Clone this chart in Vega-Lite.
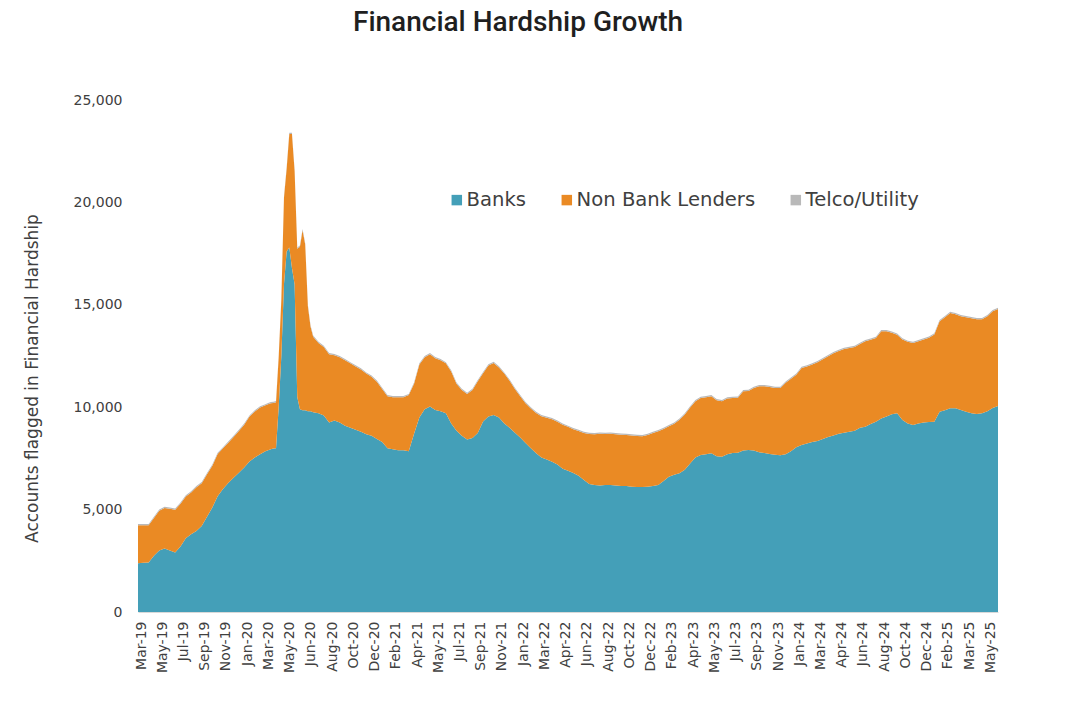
{
  "$schema": "https://vega.github.io/schema/vega-lite/v6.json",
  "width": 860,
  "height": 512,
  "autosize": {"type": "none"},
  "padding": {"left": 138, "top": 100, "right": 82, "bottom": 98},
  "background": "white",
  "title": {"text": "Financial Hardship Growth", "font": "Roboto", "fontSize": 28, "fontWeight": 500, "color": "#1f1f1f", "anchor": "middle", "frame": "group", "dx": -50, "offset": 34, "baseline": "alphabetic"},
  "config": {"view": {"stroke": null}},
  "data": {"values": [
    {"week": 0, "Banks": 2380, "Non Bank Lenders": 1860, "Telco/Utility": 60},
    {"week": 2, "Banks": 2400, "Non Bank Lenders": 1840, "Telco/Utility": 60},
    {"week": 4, "Banks": 2420, "Non Bank Lenders": 1820, "Telco/Utility": 60},
    {"week": 6, "Banks": 2750, "Non Bank Lenders": 1840, "Telco/Utility": 60},
    {"week": 8, "Banks": 3000, "Non Bank Lenders": 1940, "Telco/Utility": 60},
    {"week": 10, "Banks": 3100, "Non Bank Lenders": 1980, "Telco/Utility": 60},
    {"week": 12, "Banks": 3000, "Non Bank Lenders": 2040, "Telco/Utility": 60},
    {"week": 14, "Banks": 2900, "Non Bank Lenders": 2090, "Telco/Utility": 60},
    {"week": 16, "Banks": 3200, "Non Bank Lenders": 2090, "Telco/Utility": 60},
    {"week": 18, "Banks": 3600, "Non Bank Lenders": 2040, "Telco/Utility": 60},
    {"week": 20, "Banks": 3800, "Non Bank Lenders": 2040, "Telco/Utility": 60},
    {"week": 22, "Banks": 3950, "Non Bank Lenders": 2140, "Telco/Utility": 60},
    {"week": 24, "Banks": 4200, "Non Bank Lenders": 2090, "Telco/Utility": 60},
    {"week": 26, "Banks": 4650, "Non Bank Lenders": 2080, "Telco/Utility": 60},
    {"week": 28, "Banks": 5100, "Non Bank Lenders": 2040, "Telco/Utility": 60},
    {"week": 30, "Banks": 5650, "Non Bank Lenders": 2060, "Telco/Utility": 60},
    {"week": 32, "Banks": 6000, "Non Bank Lenders": 1990, "Telco/Utility": 60},
    {"week": 34, "Banks": 6300, "Non Bank Lenders": 1960, "Telco/Utility": 60},
    {"week": 36, "Banks": 6550, "Non Bank Lenders": 1990, "Telco/Utility": 60},
    {"week": 38, "Banks": 6800, "Non Bank Lenders": 2040, "Telco/Utility": 60},
    {"week": 40, "Banks": 7050, "Non Bank Lenders": 2090, "Telco/Utility": 60},
    {"week": 42, "Banks": 7350, "Non Bank Lenders": 2190, "Telco/Utility": 60},
    {"week": 44, "Banks": 7550, "Non Bank Lenders": 2240, "Telco/Utility": 60},
    {"week": 46, "Banks": 7700, "Non Bank Lenders": 2290, "Telco/Utility": 60},
    {"week": 48, "Banks": 7850, "Non Bank Lenders": 2240, "Telco/Utility": 60},
    {"week": 49, "Banks": 7900, "Non Bank Lenders": 2240, "Telco/Utility": 60},
    {"week": 50, "Banks": 7950, "Non Bank Lenders": 2240, "Telco/Utility": 60},
    {"week": 51, "Banks": 7980, "Non Bank Lenders": 2230, "Telco/Utility": 60},
    {"week": 52, "Banks": 8000, "Non Bank Lenders": 2240, "Telco/Utility": 60},
    {"week": 53, "Banks": 10000, "Non Bank Lenders": 2440, "Telco/Utility": 60},
    {"week": 54, "Banks": 12500, "Non Bank Lenders": 2740, "Telco/Utility": 60},
    {"week": 55, "Banks": 16000, "Non Bank Lenders": 4240, "Telco/Utility": 60},
    {"week": 56, "Banks": 17600, "Non Bank Lenders": 4040, "Telco/Utility": 60},
    {"week": 57, "Banks": 17800, "Non Bank Lenders": 5540, "Telco/Utility": 60},
    {"week": 58, "Banks": 16800, "Non Bank Lenders": 6540, "Telco/Utility": 60},
    {"week": 59, "Banks": 16000, "Non Bank Lenders": 5540, "Telco/Utility": 60},
    {"week": 60, "Banks": 10500, "Non Bank Lenders": 7240, "Telco/Utility": 60},
    {"week": 61, "Banks": 9900, "Non Bank Lenders": 7940, "Telco/Utility": 60},
    {"week": 62, "Banks": 9850, "Non Bank Lenders": 8790, "Telco/Utility": 60},
    {"week": 63, "Banks": 9850, "Non Bank Lenders": 8090, "Telco/Utility": 60},
    {"week": 64, "Banks": 9800, "Non Bank Lenders": 5140, "Telco/Utility": 60},
    {"week": 65, "Banks": 9800, "Non Bank Lenders": 4140, "Telco/Utility": 60},
    {"week": 66, "Banks": 9750, "Non Bank Lenders": 3690, "Telco/Utility": 60},
    {"week": 68, "Banks": 9700, "Non Bank Lenders": 3440, "Telco/Utility": 60},
    {"week": 70, "Banks": 9600, "Non Bank Lenders": 3340, "Telco/Utility": 60},
    {"week": 72, "Banks": 9250, "Non Bank Lenders": 3340, "Telco/Utility": 60},
    {"week": 74, "Banks": 9350, "Non Bank Lenders": 3190, "Telco/Utility": 60},
    {"week": 76, "Banks": 9250, "Non Bank Lenders": 3190, "Telco/Utility": 60},
    {"week": 78, "Banks": 9100, "Non Bank Lenders": 3190, "Telco/Utility": 60},
    {"week": 80, "Banks": 9000, "Non Bank Lenders": 3140, "Telco/Utility": 60},
    {"week": 82, "Banks": 8900, "Non Bank Lenders": 3090, "Telco/Utility": 60},
    {"week": 84, "Banks": 8800, "Non Bank Lenders": 3040, "Telco/Utility": 60},
    {"week": 86, "Banks": 8680, "Non Bank Lenders": 2960, "Telco/Utility": 60},
    {"week": 88, "Banks": 8600, "Non Bank Lenders": 2890, "Telco/Utility": 60},
    {"week": 90, "Banks": 8450, "Non Bank Lenders": 2790, "Telco/Utility": 60},
    {"week": 92, "Banks": 8300, "Non Bank Lenders": 2590, "Telco/Utility": 60},
    {"week": 94, "Banks": 8000, "Non Bank Lenders": 2540, "Telco/Utility": 60},
    {"week": 96, "Banks": 7950, "Non Bank Lenders": 2540, "Telco/Utility": 60},
    {"week": 98, "Banks": 7900, "Non Bank Lenders": 2590, "Telco/Utility": 60},
    {"week": 100, "Banks": 7900, "Non Bank Lenders": 2590, "Telco/Utility": 60},
    {"week": 102, "Banks": 7850, "Non Bank Lenders": 2740, "Telco/Utility": 60},
    {"week": 104, "Banks": 8700, "Non Bank Lenders": 2440, "Telco/Utility": 60},
    {"week": 106, "Banks": 9500, "Non Bank Lenders": 2590, "Telco/Utility": 60},
    {"week": 108, "Banks": 9900, "Non Bank Lenders": 2540, "Telco/Utility": 60},
    {"week": 110, "Banks": 10030, "Non Bank Lenders": 2560, "Telco/Utility": 60},
    {"week": 112, "Banks": 9860, "Non Bank Lenders": 2530, "Telco/Utility": 60},
    {"week": 114, "Banks": 9800, "Non Bank Lenders": 2490, "Telco/Utility": 60},
    {"week": 116, "Banks": 9700, "Non Bank Lenders": 2440, "Telco/Utility": 60},
    {"week": 118, "Banks": 9200, "Non Bank Lenders": 2540, "Telco/Utility": 60},
    {"week": 120, "Banks": 8850, "Non Bank Lenders": 2290, "Telco/Utility": 60},
    {"week": 122, "Banks": 8600, "Non Bank Lenders": 2240, "Telco/Utility": 60},
    {"week": 124, "Banks": 8420, "Non Bank Lenders": 2220, "Telco/Utility": 60},
    {"week": 126, "Banks": 8500, "Non Bank Lenders": 2340, "Telco/Utility": 60},
    {"week": 128, "Banks": 8740, "Non Bank Lenders": 2530, "Telco/Utility": 60},
    {"week": 130, "Banks": 9300, "Non Bank Lenders": 2360, "Telco/Utility": 60},
    {"week": 132, "Banks": 9550, "Non Bank Lenders": 2490, "Telco/Utility": 60},
    {"week": 134, "Banks": 9620, "Non Bank Lenders": 2540, "Telco/Utility": 60},
    {"week": 136, "Banks": 9500, "Non Bank Lenders": 2440, "Telco/Utility": 60},
    {"week": 138, "Banks": 9200, "Non Bank Lenders": 2440, "Telco/Utility": 60},
    {"week": 140, "Banks": 9000, "Non Bank Lenders": 2290, "Telco/Utility": 60},
    {"week": 142, "Banks": 8750, "Non Bank Lenders": 2140, "Telco/Utility": 60},
    {"week": 144, "Banks": 8520, "Non Bank Lenders": 2020, "Telco/Utility": 60},
    {"week": 146, "Banks": 8250, "Non Bank Lenders": 1940, "Telco/Utility": 60},
    {"week": 148, "Banks": 8000, "Non Bank Lenders": 1940, "Telco/Utility": 60},
    {"week": 150, "Banks": 7750, "Non Bank Lenders": 1970, "Telco/Utility": 60},
    {"week": 152, "Banks": 7550, "Non Bank Lenders": 2010, "Telco/Utility": 60},
    {"week": 154, "Banks": 7450, "Non Bank Lenders": 2040, "Telco/Utility": 60},
    {"week": 156, "Banks": 7340, "Non Bank Lenders": 2070, "Telco/Utility": 60},
    {"week": 158, "Banks": 7200, "Non Bank Lenders": 2090, "Telco/Utility": 60},
    {"week": 160, "Banks": 7000, "Non Bank Lenders": 2140, "Telco/Utility": 60},
    {"week": 162, "Banks": 6900, "Non Bank Lenders": 2140, "Telco/Utility": 60},
    {"week": 164, "Banks": 6790, "Non Bank Lenders": 2130, "Telco/Utility": 60},
    {"week": 166, "Banks": 6650, "Non Bank Lenders": 2190, "Telco/Utility": 60},
    {"week": 168, "Banks": 6450, "Non Bank Lenders": 2290, "Telco/Utility": 60},
    {"week": 170, "Banks": 6250, "Non Bank Lenders": 2440, "Telco/Utility": 60},
    {"week": 172, "Banks": 6200, "Non Bank Lenders": 2480, "Telco/Utility": 60},
    {"week": 174, "Banks": 6180, "Non Bank Lenders": 2520, "Telco/Utility": 60},
    {"week": 176, "Banks": 6200, "Non Bank Lenders": 2490, "Telco/Utility": 60},
    {"week": 178, "Banks": 6200, "Non Bank Lenders": 2500, "Telco/Utility": 60},
    {"week": 180, "Banks": 6180, "Non Bank Lenders": 2500, "Telco/Utility": 60},
    {"week": 182, "Banks": 6150, "Non Bank Lenders": 2510, "Telco/Utility": 60},
    {"week": 184, "Banks": 6150, "Non Bank Lenders": 2490, "Telco/Utility": 60},
    {"week": 186, "Banks": 6120, "Non Bank Lenders": 2500, "Telco/Utility": 60},
    {"week": 188, "Banks": 6100, "Non Bank Lenders": 2490, "Telco/Utility": 60},
    {"week": 190, "Banks": 6100, "Non Bank Lenders": 2480, "Telco/Utility": 60},
    {"week": 192, "Banks": 6120, "Non Bank Lenders": 2520, "Telco/Utility": 60},
    {"week": 194, "Banks": 6150, "Non Bank Lenders": 2590, "Telco/Utility": 60},
    {"week": 196, "Banks": 6200, "Non Bank Lenders": 2630, "Telco/Utility": 60},
    {"week": 198, "Banks": 6400, "Non Bank Lenders": 2540, "Telco/Utility": 60},
    {"week": 200, "Banks": 6600, "Non Bank Lenders": 2470, "Telco/Utility": 60},
    {"week": 202, "Banks": 6700, "Non Bank Lenders": 2490, "Telco/Utility": 60},
    {"week": 204, "Banks": 6780, "Non Bank Lenders": 2610, "Telco/Utility": 60},
    {"week": 206, "Banks": 6950, "Non Bank Lenders": 2690, "Telco/Utility": 60},
    {"week": 208, "Banks": 7250, "Non Bank Lenders": 2740, "Telco/Utility": 60},
    {"week": 210, "Banks": 7550, "Non Bank Lenders": 2740, "Telco/Utility": 60},
    {"week": 212, "Banks": 7670, "Non Bank Lenders": 2780, "Telco/Utility": 60},
    {"week": 214, "Banks": 7700, "Non Bank Lenders": 2790, "Telco/Utility": 60},
    {"week": 216, "Banks": 7750, "Non Bank Lenders": 2790, "Telco/Utility": 60},
    {"week": 218, "Banks": 7600, "Non Bank Lenders": 2740, "Telco/Utility": 60},
    {"week": 220, "Banks": 7580, "Non Bank Lenders": 2710, "Telco/Utility": 60},
    {"week": 222, "Banks": 7700, "Non Bank Lenders": 2720, "Telco/Utility": 60},
    {"week": 224, "Banks": 7760, "Non Bank Lenders": 2690, "Telco/Utility": 60},
    {"week": 226, "Banks": 7770, "Non Bank Lenders": 2690, "Telco/Utility": 60},
    {"week": 228, "Banks": 7880, "Non Bank Lenders": 2900, "Telco/Utility": 60},
    {"week": 230, "Banks": 7910, "Non Bank Lenders": 2880, "Telco/Utility": 60},
    {"week": 232, "Banks": 7880, "Non Bank Lenders": 3060, "Telco/Utility": 60},
    {"week": 234, "Banks": 7800, "Non Bank Lenders": 3220, "Telco/Utility": 60},
    {"week": 236, "Banks": 7760, "Non Bank Lenders": 3260, "Telco/Utility": 60},
    {"week": 238, "Banks": 7720, "Non Bank Lenders": 3270, "Telco/Utility": 60},
    {"week": 240, "Banks": 7680, "Non Bank Lenders": 3260, "Telco/Utility": 60},
    {"week": 242, "Banks": 7650, "Non Bank Lenders": 3290, "Telco/Utility": 60},
    {"week": 244, "Banks": 7700, "Non Bank Lenders": 3490, "Telco/Utility": 60},
    {"week": 246, "Banks": 7850, "Non Bank Lenders": 3540, "Telco/Utility": 60},
    {"week": 248, "Banks": 8050, "Non Bank Lenders": 3540, "Telco/Utility": 60},
    {"week": 250, "Banks": 8160, "Non Bank Lenders": 3760, "Telco/Utility": 60},
    {"week": 252, "Banks": 8230, "Non Bank Lenders": 3760, "Telco/Utility": 60},
    {"week": 254, "Banks": 8300, "Non Bank Lenders": 3790, "Telco/Utility": 60},
    {"week": 256, "Banks": 8350, "Non Bank Lenders": 3840, "Telco/Utility": 60},
    {"week": 258, "Banks": 8450, "Non Bank Lenders": 3890, "Telco/Utility": 60},
    {"week": 260, "Banks": 8550, "Non Bank Lenders": 3940, "Telco/Utility": 60},
    {"week": 262, "Banks": 8620, "Non Bank Lenders": 4020, "Telco/Utility": 60},
    {"week": 264, "Banks": 8700, "Non Bank Lenders": 4040, "Telco/Utility": 60},
    {"week": 266, "Banks": 8750, "Non Bank Lenders": 4090, "Telco/Utility": 60},
    {"week": 268, "Banks": 8800, "Non Bank Lenders": 4090, "Telco/Utility": 60},
    {"week": 270, "Banks": 8850, "Non Bank Lenders": 4090, "Telco/Utility": 60},
    {"week": 272, "Banks": 9000, "Non Bank Lenders": 4090, "Telco/Utility": 60},
    {"week": 274, "Banks": 9050, "Non Bank Lenders": 4170, "Telco/Utility": 60},
    {"week": 276, "Banks": 9180, "Non Bank Lenders": 4110, "Telco/Utility": 60},
    {"week": 278, "Banks": 9290, "Non Bank Lenders": 4090, "Telco/Utility": 60},
    {"week": 280, "Banks": 9450, "Non Bank Lenders": 4260, "Telco/Utility": 60},
    {"week": 282, "Banks": 9540, "Non Bank Lenders": 4170, "Telco/Utility": 60},
    {"week": 284, "Banks": 9650, "Non Bank Lenders": 3990, "Telco/Utility": 60},
    {"week": 286, "Banks": 9700, "Non Bank Lenders": 3840, "Telco/Utility": 60},
    {"week": 288, "Banks": 9380, "Non Bank Lenders": 3930, "Telco/Utility": 60},
    {"week": 290, "Banks": 9200, "Non Bank Lenders": 3990, "Telco/Utility": 60},
    {"week": 292, "Banks": 9130, "Non Bank Lenders": 4010, "Telco/Utility": 60},
    {"week": 294, "Banks": 9200, "Non Bank Lenders": 4020, "Telco/Utility": 60},
    {"week": 296, "Banks": 9250, "Non Bank Lenders": 4060, "Telco/Utility": 60},
    {"week": 298, "Banks": 9280, "Non Bank Lenders": 4110, "Telco/Utility": 60},
    {"week": 300, "Banks": 9290, "Non Bank Lenders": 4260, "Telco/Utility": 60},
    {"week": 302, "Banks": 9780, "Non Bank Lenders": 4420, "Telco/Utility": 60},
    {"week": 304, "Banks": 9850, "Non Bank Lenders": 4540, "Telco/Utility": 60},
    {"week": 306, "Banks": 9950, "Non Bank Lenders": 4650, "Telco/Utility": 60},
    {"week": 308, "Banks": 9950, "Non Bank Lenders": 4590, "Telco/Utility": 60},
    {"week": 310, "Banks": 9860, "Non Bank Lenders": 4580, "Telco/Utility": 60},
    {"week": 312, "Banks": 9780, "Non Bank Lenders": 4610, "Telco/Utility": 60},
    {"week": 314, "Banks": 9700, "Non Bank Lenders": 4640, "Telco/Utility": 60},
    {"week": 316, "Banks": 9670, "Non Bank Lenders": 4620, "Telco/Utility": 60},
    {"week": 318, "Banks": 9700, "Non Bank Lenders": 4590, "Telco/Utility": 60},
    {"week": 320, "Banks": 9800, "Non Bank Lenders": 4640, "Telco/Utility": 60},
    {"week": 322, "Banks": 9960, "Non Bank Lenders": 4730, "Telco/Utility": 60},
    {"week": 324, "Banks": 10060, "Non Bank Lenders": 4730, "Telco/Utility": 60}
  ]},
  "transform": [{"fold": ["Banks", "Non Bank Lenders", "Telco/Utility"], "as": ["sector", "accounts"]}],
  "mark": {"type": "area", "interpolate": "linear"},
  "encoding": {
    "x": {
      "field": "week", "type": "quantitative",
      "scale": {"domain": [0, 324], "nice": false, "zero": false},
      "axis": {
        "title": null, "grid": false, "ticks": false,
        "values": [0, 8, 16, 24, 32, 40, 48, 56, 64, 72, 80, 88, 96, 104, 112, 120, 128, 136, 144, 152, 160, 168, 176, 184, 192, 200, 208, 216, 224, 232, 240, 248, 256, 264, 272, 280, 288, 296, 304, 312, 320],
        "labelExpr": "['Mar-19','May-19','Jul-19','Sep-19','Nov-19','Jan-20','Mar-20','May-20','Jun-20','Aug-20','Oct-20','Dec-20','Feb-21','Apr-21','May-21','Jul-21','Sep-21','Nov-21','Jan-22','Mar-22','Apr-22','Jun-22','Aug-22','Oct-22','Dec-22','Feb-23','Apr-23','May-23','Jul-23','Sep-23','Nov-23','Jan-24','Mar-24','Apr-24','Jun-24','Aug-24','Oct-24','Dec-24','Feb-25','Mar-25','May-25'][round(datum.value/8)]",
        "labelAngle": 270, "labelOverlap": false, "labelBound": false, "labelFlush": false, "labelOffset": 3,
        "labelFont": "DejaVu Sans", "labelFontSize": 14, "labelColor": "#404040", "labelPadding": 9,
        "domain": true, "domainColor": "#d9d9d9", "domainWidth": 1
      }
    },
    "y": {
      "field": "accounts", "type": "quantitative", "stack": "zero",
      "scale": {"domain": [0, 25000], "nice": false},
      "axis": {
        "values": [0, 5000, 10000, 15000, 20000, 25000], "format": ",.0f",
        "grid": false, "ticks": false, "domain": false,
        "labelFont": "DejaVu Sans", "labelFontSize": 14, "labelColor": "#404040", "labelPadding": 16,
        "title": "Accounts flagged in Financial Hardship", "titleFont": "DejaVu Sans", "titleFontSize": 17, "titleFontWeight": "normal", "titleColor": "#404040",
        "titleAngle": 270, "titleX": -106, "titleY": 278, "titleAlign": "center", "titleBaseline": "middle"
      }
    },
    "order": {"field": "sector", "sort": "ascending"},
    "color": {
      "field": "sector", "type": "nominal",
      "scale": {"domain": ["Banks", "Non Bank Lenders", "Telco/Utility"], "range": ["#449FB8", "#EA8A24", "#B9B9B9"]},
      "legend": {
        "orient": "none", "legendX": 309, "legendY": 90, "direction": "horizontal", "title": null,
        "symbolType": "square", "symbolSize": 110, "symbolStrokeWidth": 0, "symbolOpacity": 1,
        "labelFont": "DejaVu Sans", "labelFontSize": 19.6, "labelColor": "#404040", "labelOffset": 0, "labelLimit": 400, "columnPadding": 30
      }
    }
  }
}
